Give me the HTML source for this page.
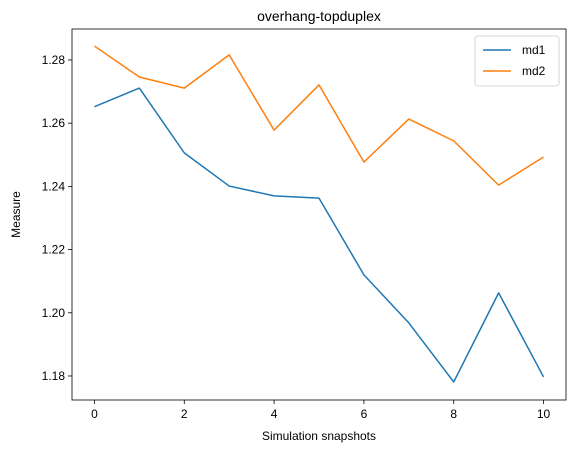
<!DOCTYPE html>
<html><head><meta charset="utf-8"><style>
html,body{margin:0;padding:0;background:#fff;}
svg{display:block;font-family:"Liberation Sans","DejaVu Sans",sans-serif;}
</style></head><body>
<svg id="chart" width="576" height="453" viewBox="0 0 576 453"></svg>
<script>
const categories=[0,1,2,3,4,5,6,7,8,9,10];
const md1=[1.2652,1.2711,1.2506,1.2401,1.2370,1.2363,1.2120,1.1968,1.1781,1.2063,1.1797];
const md2=[1.2844,1.2746,1.2711,1.2816,1.2578,1.2721,1.2477,1.2613,1.2544,1.2404,1.2493];
const xTicks=[0,2,4,6,8,10];
const yTicks=[1.18,1.20,1.22,1.24,1.26,1.28];
const yTickLabels=["1.18","1.20","1.22","1.24","1.26","1.28"];
const seriesNames=["md1","md2"];
const colors=["#1f77b4","#ff7f0e"];

const svg=document.getElementById('chart');
const NS="http://www.w3.org/2000/svg";
const L=72,R=566,T=29,B=400;
const xMin=-0.5,xMax=10.5,yMin=1.1724,yMax=1.2898;
function sx(v){return L+(v-xMin)/(xMax-xMin)*(R-L);}
function sy(v){return B-(v-yMin)/(yMax-yMin)*(B-T);}
function mk(tag,attrs,parent){const e=document.createElementNS(NS,tag);for(const k in attrs)e.setAttribute(k,attrs[k]);(parent||svg).appendChild(e);return e;}

const title=mk('text',{x:(L+R)/2,y:21,'text-anchor':'middle','font-size':14,fill:'#000'});
title.textContent='overhang-topduplex';



xTicks.forEach(t=>{
  const g=mk('g',{});
  
  
  mk('line',{x1:sx(t),x2:sx(t),y1:B,y2:B+4,stroke:'#000','stroke-width':0.8},g);
  const tx=mk('text',{x:sx(t),y:B+18,'text-anchor':'middle','font-size':12,fill:'#000'},g);
  tx.textContent=t;
});
yTicks.forEach((t,i)=>{
  const g=mk('g',{});
  
  
  mk('line',{x1:L-4,x2:L,y1:sy(t),y2:sy(t),stroke:'#000','stroke-width':0.8},g);
  const tx=mk('text',{x:L-7,y:sy(t)+4,'text-anchor':'end','font-size':12,fill:'#000'},g);
  tx.textContent=yTickLabels[i];
});

const xl=mk('text',{x:(L+R)/2,y:440,'text-anchor':'middle','font-size':12,fill:'#000'});
xl.textContent='Simulation snapshots';


const yl=mk('text',{x:0,y:0,'text-anchor':'middle','font-size':12,fill:'#000',transform:`translate(20,${(T+B)/2}) rotate(-90)`});
yl.textContent='Measure';



[md1,md2].forEach((s,si)=>{
  const pts=s.map((v,i)=>sx(categories[i])+','+sy(v)).join(' ');
  const p=mk('polyline',{points:pts,fill:'none',stroke:colors[si],'stroke-width':1.5,'stroke-linejoin':'round'});
  
  
});

const frame=mk('rect',{x:L,y:T,width:R-L,height:B-T,fill:'none',stroke:'#000','stroke-width':0.8});



const lg=mk('g',{});


mk('rect',{x:475,y:36,width:84,height:50,rx:3,fill:'#fff',stroke:'#ccc','stroke-width':0.8},lg);
seriesNames.forEach((n,i)=>{
  const g=mk('g',{},lg);
  
  
  const y=50+i*21;
  mk('line',{x1:483,x2:511,y1:y,y2:y,stroke:colors[i],'stroke-width':1.5},g);
  const t=mk('text',{x:522,y:y+4,'font-size':12,fill:'#000'},g);
  t.textContent=n;
});
</script>
</body></html>
